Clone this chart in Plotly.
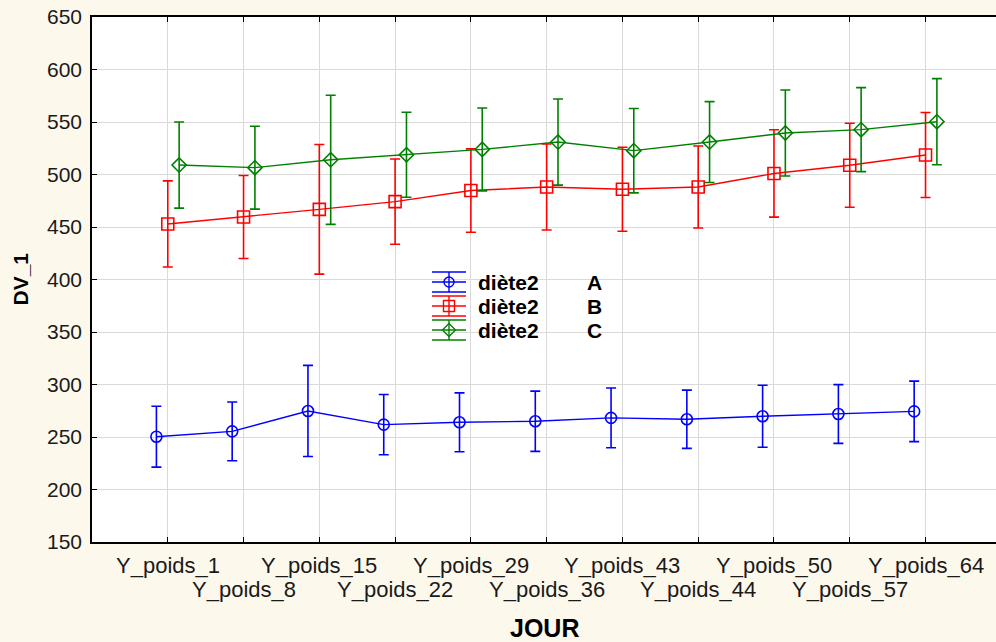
import numpy as np
import plotly.graph_objects as go

categories = ["Y_poids_1", "Y_poids_8", "Y_poids_15", "Y_poids_22", "Y_poids_29", "Y_poids_36",
              "Y_poids_43", "Y_poids_44", "Y_poids_50", "Y_poids_57", "Y_poids_64"]
A_mean = [250.3, 255.4, 274.8, 261.8, 264.0, 265.0, 268.2, 266.9, 269.8, 271.9, 274.4]
A_err = [29.0, 28.0, 43.4, 28.7, 28.0, 28.7, 28.5, 27.7, 29.5, 28.0, 28.8]
B_mean = [452.9, 459.5, 466.8, 474.2, 484.7, 488.1, 485.9, 488.1, 501.0, 508.8, 518.6]
B_err = [41.0, 39.5, 61.7, 40.6, 39.7, 41.0, 40.0, 39.0, 41.6, 40.0, 40.5]
C_mean = [509.0, 506.5, 514.0, 518.8, 523.9, 530.9, 522.7, 530.9, 539.5, 542.7, 550.3]
C_err = [41.0, 39.5, 61.5, 40.5, 39.5, 41.0, 40.2, 38.5, 41.0, 40.0, 41.0]
series_names = ["diète2", "diète2", "diète2"]
series_levels = ["A", "B", "C"]
y_ticks = [150, 200, 250, 300, 350, 400, 450, 500, 550, 600, 650]

colors = ["#0000FF", "#FF0000", "#008000"]
symbols = ["circle-open", "square-open", "diamond-open"]
msizes = [11, 12, 11]
offsets = [-0.15, 0.0, 0.15]
means = [A_mean, B_mean, C_mean]
errs = [A_err, B_err, C_err]

FONT = "Liberation Sans, Arial, sans-serif"
idx = np.arange(len(categories))

L_PLOT, R_PLOT, T_PLOT, B_PLOT = 92, 996, 17, 542
PW, PH = R_PLOT - L_PLOT, B_PLOT - T_PLOT


def px_to_paper_x(px):
    return (px - L_PLOT) / PW


def px_to_paper_y(py):
    return (B_PLOT - py) / PH


fig = go.Figure()
for k in range(3):
    fig.add_trace(go.Scatter(
        x=idx + offsets[k], y=means[k], mode="lines+markers",
        line=dict(color=colors[k], width=1.4),
        marker=dict(symbol=symbols[k], size=msizes[k], color=colors[k], line=dict(width=1.6, color=colors[k])),
        error_y=dict(type="data", array=errs[k], visible=True, color=colors[k], thickness=1.6, width=5),
        showlegend=False, hoverinfo="skip"))

# custom legend glyphs on a pixel-like overlay axis
legend_rows = [282, 306, 330]
for k in range(3):
    cy = legend_rows[k]
    for dy in (-10, 0, 10):
        fig.add_trace(go.Scatter(x=[432, 466], y=[cy + dy, cy + dy], mode="lines",
                                 line=dict(color=colors[k], width=1.4),
                                 xaxis="x2", yaxis="y2", showlegend=False, hoverinfo="skip"))
    fig.add_trace(go.Scatter(x=[449], y=[cy], mode="markers",
                             marker=dict(symbol=symbols[k], size=msizes[k] - 1, color=colors[k],
                                         line=dict(width=1.4, color=colors[k])),
                             error_y=dict(type="constant", value=10, visible=True, color=colors[k],
                                          thickness=1.4, width=0),
                             xaxis="x2", yaxis="y2", showlegend=False, hoverinfo="skip"))
    fig.add_annotation(x=476, y=cy, xref="x2", yref="y2", text="<b>%s</b>" % series_names[k],
                       showarrow=False, xanchor="left", yanchor="middle",
                       font=dict(family=FONT, size=21, color="#000000"))
    fig.add_annotation(x=594, y=cy, xref="x2", yref="y2", text="<b>%s</b>" % series_levels[k],
                       showarrow=False, xanchor="center", yanchor="middle",
                       font=dict(family=FONT, size=21, color="#000000"))

# staggered category labels
for i, c in enumerate(categories):
    row_y = 565 if i % 2 == 0 else 589
    fig.add_annotation(x=int(idx[i]), y=px_to_paper_y(row_y), xref="x", yref="paper", text=c,
                       showarrow=False, xanchor="center", yanchor="middle",
                       font=dict(family=FONT, size=22, color="#1a1a1a"))

fig.update_layout(
    width=996, height=642,
    margin=dict(l=L_PLOT, r=996 - R_PLOT, t=T_PLOT, b=642 - B_PLOT),
    paper_bgcolor="#FDF8EC", plot_bgcolor="#FFFFFF",
    xaxis=dict(range=[-1, 10.93], tickmode="array", tickvals=list(idx), showticklabels=False,
               automargin=False,
               showgrid=True, gridcolor="#DADADA", gridwidth=1.2, zeroline=False,
               showline=True, linecolor="#000000", linewidth=1.5, mirror="ticks",
               ticks="inside", ticklen=5, tickcolor="#000000", tickwidth=1.2),
    yaxis=dict(range=[150, 650], tickmode="array", tickvals=y_ticks, automargin=False,
               showgrid=True, gridcolor="#DADADA", gridwidth=1.2, zeroline=False,
               showline=True, linecolor="#000000", linewidth=1.5, mirror=False,
               ticks="inside", ticklen=5, tickcolor="#000000", tickwidth=1.2,
               tickfont=dict(family=FONT, size=21, color="#1a1a1a"), ticklabelstandoff=4),
    xaxis2=dict(range=[L_PLOT, R_PLOT], overlaying="x", visible=False, showgrid=False, zeroline=False),
    yaxis2=dict(range=[B_PLOT, T_PLOT], overlaying="y", visible=False, showgrid=False, zeroline=False),
)

fig.add_annotation(x=0.5, y=px_to_paper_y(628), xref="paper", yref="paper", text="<b>JOUR</b>",
                   showarrow=False, xanchor="center", yanchor="middle",
                   font=dict(family=FONT, size=25, color="#000000"))
fig.add_annotation(x=px_to_paper_x(20), y=0.5, xref="paper", yref="paper", text="<b>DV_1</b>",
                   showarrow=False, textangle=-90, xanchor="center", yanchor="middle",
                   font=dict(family=FONT, size=21, color="#000000"))

fig.write_html("out.html")
